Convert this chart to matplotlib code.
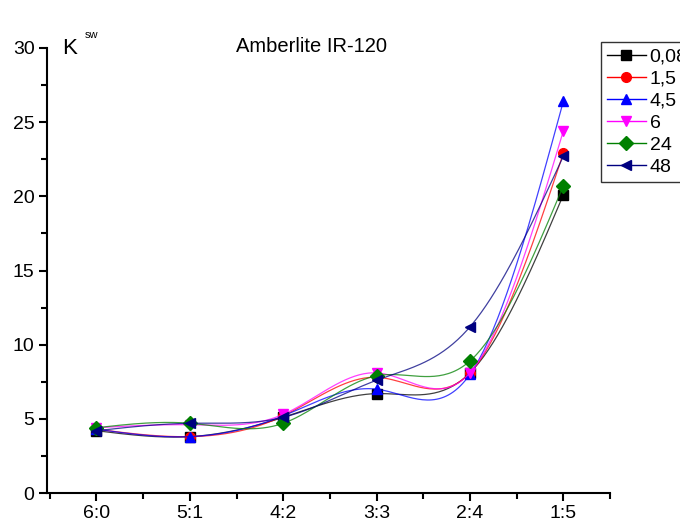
import numpy as np
import matplotlib.pyplot as plt

plt.rcParams['font.family'] = ['Liberation Sans', 'DejaVu Sans']

categories = ['6:0', '5:1', '4:2', '3:3', '2:4', '1:5']
k_008 = [4.2, 3.8, 5.1, 6.7, 8.1, 20.1]
k_15 = [4.3, 3.8, 5.2, 7.8, 8.1, 22.9]
k_45 = [4.3, 3.8, 5.2, 7.0, 8.0, 26.4]
k_6 = [4.4, 4.6, 5.3, 8.1, 8.1, 24.4]
k_24 = [4.4, 4.7, 4.7, 7.9, 8.9, 20.7]
k_48 = [4.2, 4.7, 5.1, 7.6, 11.2, 22.7]

series = [
    ('0,08', k_008, 'black', 's'),
    ('1,5', k_15, 'red', 'o'),
    ('4,5', k_45, 'blue', '^'),
    ('6', k_6, 'magenta', 'v'),
    ('24', k_24, 'green', 'D'),
    ('48', k_48, 'navy', '<'),
]


def natural_spline(x, y, n=200):
    # plain natural cubic spline, so the curves look like the Origin ones
    x = np.asarray(x, float)
    y = np.asarray(y, float)
    m = len(x)
    h = np.diff(x)
    A = np.zeros((m, m))
    b = np.zeros(m)
    A[0, 0] = A[-1, -1] = 1
    for i in range(1, m - 1):
        A[i, i - 1] = h[i - 1]
        A[i, i] = 2 * (h[i - 1] + h[i])
        A[i, i + 1] = h[i]
        b[i] = 6 * ((y[i + 1] - y[i]) / h[i] - (y[i] - y[i - 1]) / h[i - 1])
    M = np.linalg.solve(A, b)
    xs = np.linspace(x[0], x[-1], n)
    idx = np.clip(np.searchsorted(x, xs) - 1, 0, m - 2)
    x0, x1 = x[idx], x[idx + 1]
    hh = x1 - x0
    ys = (M[idx] * (x1 - xs) ** 3 / (6 * hh) + M[idx + 1] * (xs - x0) ** 3 / (6 * hh)
          + (y[idx] / hh - M[idx] * hh / 6) * (x1 - xs)
          + (y[idx + 1] / hh - M[idx + 1] * hh / 6) * (xs - x0))
    return xs, ys


fig = plt.figure(figsize=(6.8, 5.24), dpi=100)
ax = fig.add_axes([47 / 680, 1 - 493 / 524, (610 - 47) / 680, (493 - 48) / 524])

x = np.arange(len(categories))
handles = []
for label, vals, color, marker in series:
    xs, ys = natural_spline(x, vals)
    ax.plot(xs, ys, color=color, lw=0.9, alpha=0.75)
    ax.plot(x, vals, color=color, marker=marker, ms=7, ls='none')
    h, = ax.plot([], [], color=color, marker=marker, ms=7, lw=1, label=label)
    handles.append(h)

ax.set_xlim(-0.53, 5.5)
ax.set_ylim(0, 30)
ax.set_xticks(x)
ax.set_xticklabels(categories)
ax.set_xticks(list(x[:-1] + 0.5) + [-0.5, 5.5], minor=True)
ax.set_yticks(np.arange(0, 31, 5))
ax.set_yticks(np.arange(2.5, 30, 5), minor=True)

for s in ['top', 'right']:
    ax.spines[s].set_visible(False)
for s in ['left', 'bottom']:
    ax.spines[s].set_linewidth(1.5)
ax.tick_params(which='major', direction='out', length=6, width=1.5, labelsize=14)
ax.tick_params(which='minor', direction='out', length=4, width=1.5)
ax.tick_params(axis='x', pad=3)
ax.tick_params(axis='y', pad=3)

fig.text(312 / 680, 1 - 47 / 524, 'Amberlite IR-120', ha='center', va='center', fontsize=14.5)
fig.text(62 / 680, 1 - 48 / 524, 'K', ha='left', va='center', fontsize=16)
fig.text(85 / 680, 1 - 35 / 524, 'sw', ha='left', va='center', fontsize=8)

leg = fig.legend(handles=handles, loc='upper left', bbox_to_anchor=(601 / 680, 1 - 42 / 524),
                 fontsize=14, frameon=True, fancybox=False, edgecolor='black',
                 handlelength=2.0, handletextpad=0.2, borderpad=0.3, labelspacing=0.23,
                 borderaxespad=0)
leg.get_frame().set_linewidth(1)

fig.savefig('out.png', dpi=100)
